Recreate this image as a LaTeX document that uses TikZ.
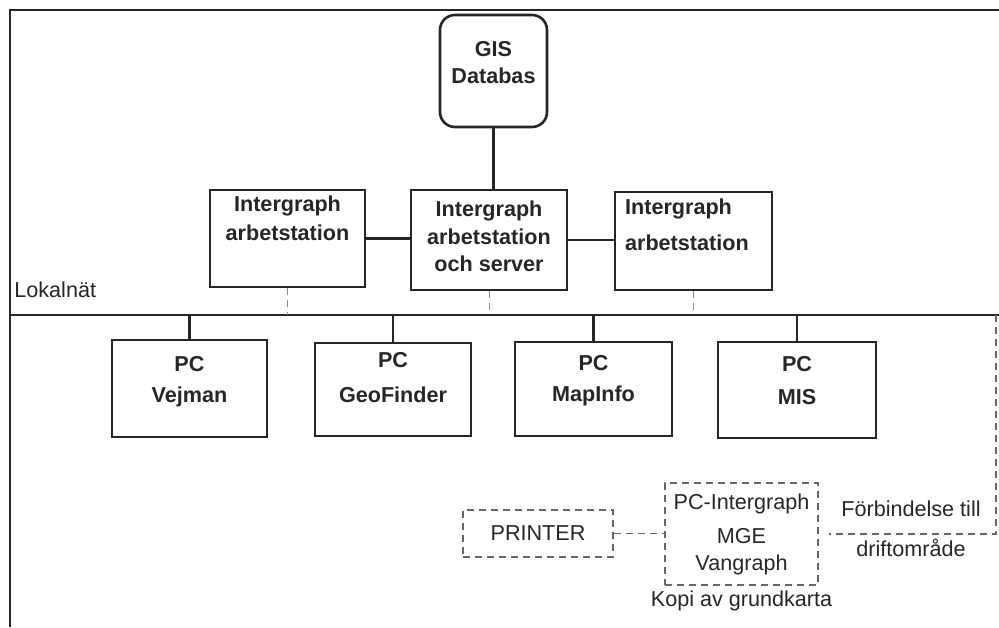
\documentclass[tikz,border=0pt]{standalone}
\usepackage{fontspec}
\setmainfont{Liberation Sans}
\usetikzlibrary{positioning}

\begin{document}
\begin{tikzpicture}[x=0.5pt, y=-0.5pt,
    caja/.style={draw=black!85, line width=1.3pt, inner sep=0pt},
    trazos/.style={draw=black!60, line width=0.6pt, dash pattern=on 3.5pt off 2.5pt},
    linea/.style={draw=black!85, line width=1.2pt},
    txtb/.style={font=\bfseries\fontsize{10.8}{#1}\selectfont, text=black!85, align=center, inner sep=0pt},
    txtb/.default=15pt,
    txt/.style={font=\fontsize{10.8}{#1}\selectfont, text=black!85, align=center, inner sep=0pt},
    txt/.default=15pt]
    \useasboundingbox (0,0) rectangle (999,627);

    % Marco
    \draw[linea, line width=1pt] (10,627) -- (10,10) -- (999,10);

    % Red local
    \coordinate (lanL) at (10,315);
    \coordinate (lanR) at (999,315);
    \draw[linea] (lanL) -- (lanR);
    \node[txt, anchor=base west] (lokal) at (14,297) {Lokalnät};

    % Base de datos
    \node[caja, rounded corners=7.5pt, minimum width=53.5pt, minimum height=56pt] (gis) at (493.5,71) {};
    \node[txtb=13.8pt, below=13.5pt of gis.north] (gistxt) {GIS\\Databas};

    % Estaciones Intergraph
    \node[caja, minimum width=77.5pt, minimum height=48.5pt] (iwl) at (287.5,238.5) {};
    \node[caja, minimum width=78pt, minimum height=50pt] (iwc) at (489,240) {};
    \node[caja, minimum width=78.5pt, minimum height=49pt] (iwr) at (693.5,241) {};
    \node[txtb=14.5pt, below=3.5pt of iwl.north] (iwltxt) {Intergraph\\arbetstation};
    \node[txtb=13.8pt, below=6pt of iwc.north] (iwctxt) {Intergraph\\arbetstation\\och server};
    \node[txtb=18pt, align=left, anchor=north west] (iwrtxt) at ([xshift=5.5pt, yshift=-4pt]iwr.north west) {Intergraph\\arbetstation};

    \draw[linea] (gis.south) -- (gis.south |- iwc.north);
    \draw[linea] (iwl.east) -- (iwl.east -| iwc.west);
    \draw[linea] (iwc.east) -- (iwc.east -| iwr.west);
    \foreach \b in {iwl,iwc,iwr}
        \draw[trazos, draw=black!45, line width=0.4pt] (\b.south) -- (\b.south |- lanL);

    % Los PC
    \node[caja, minimum width=77.5pt, minimum height=48.5pt] (vejman) at (189.5,388.5) {};
    \node[caja, minimum width=78pt, minimum height=46.5pt] (geofinder) at (393,389.5) {};
    \node[caja, minimum width=78.5pt, minimum height=47pt] (mapinfo) at (593.5,389) {};
    \node[caja, minimum width=79pt, minimum height=48pt] (mis) at (797,390) {};
    \node[txtb=15.5pt, below=8.5pt of vejman.north] (vejmantxt) {PC\\Vejman};
    \node[txtb=17.5pt, below=5pt of geofinder.north] (geofindertxt) {PC\\GeoFinder};
    \node[txtb=15.5pt, below=7pt of mapinfo.north] (mapinfotxt) {PC\\MapInfo};
    \node[txtb=16.5pt, below=7.5pt of mis.north] (mistxt) {PC\\MIS};
    \foreach \b in {vejman,geofinder,mapinfo,mis}
        \draw[linea] (\b.north) -- (\b.north |- lanL);

    % Equipos a trazos
    \node[trazos, txt, minimum width=75pt, minimum height=23.5pt] (printer) at (538,533.5) {PRINTER};
    \node[trazos, minimum width=76.5pt, minimum height=51pt] (pci) at (741.5,534) {};
    \node[txt=13.5pt, below=5.5pt of pci.north] (pcitxt) {PC-Intergraph\\[3.5pt]MGE\\Vangraph};
    \node[txt, below=2.5pt of pci.south] (kopi) {Kopi av grundkarta};
    \node[txt=20pt, anchor=north] (forb) at (911,500) {Förbindelse till\\driftområde};

    \coordinate (lanfin) at (996,315);
    \draw[trazos] (printer.east) -- (printer.east -| pci.west);
    \draw[trazos] (lanfin) |- ([xshift=5pt]pci.east);
\end{tikzpicture}
\end{document}
